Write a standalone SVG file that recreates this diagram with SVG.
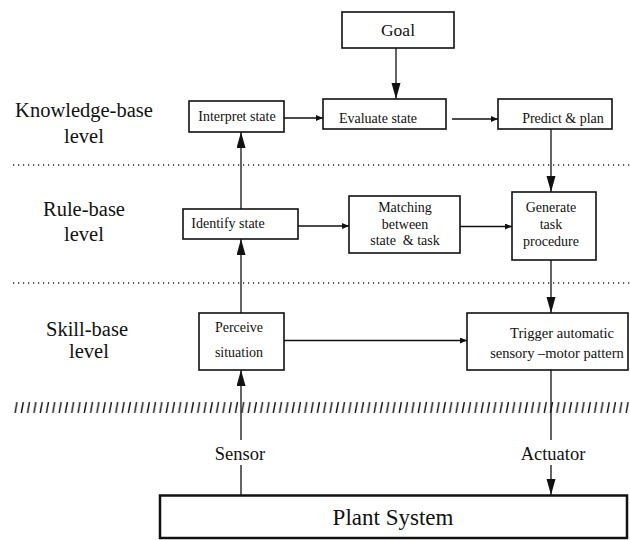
<svg xmlns="http://www.w3.org/2000/svg" width="630" height="540" viewBox="0 0 630 540" font-family="'Liberation Serif', 'Times New Roman', Times, serif">
<style>
text{font-family:'Liberation Serif','Times New Roman',Times,serif;fill:#111;text-anchor:middle}
.box{fill:#fff;stroke:#111;stroke-width:1.6}
.lvl{font-size:20.5px}
.t{font-size:14px}
.ln{stroke:#111;stroke-width:1.3;fill:none}
.dot{stroke:#222;stroke-width:1.3;stroke-dasharray:1.2 3.8;fill:none}
</style>
<defs>
<marker id="big" markerUnits="userSpaceOnUse" markerWidth="16" markerHeight="10" refX="16" refY="4.5" orient="auto">
<path d="M0,0 L16,4.5 L0,9 z" fill="#111"/>
</marker>
<marker id="sm" markerUnits="userSpaceOnUse" markerWidth="8" markerHeight="7" refX="7" refY="3" orient="auto">
<path d="M0,0 L7,3 L0,6 z" fill="#111"/>
</marker>
<pattern id="hatch" patternUnits="userSpaceOnUse" x="13" y="402" width="6.3" height="11">
<line x1="4" y1="0" x2="2" y2="11" stroke="#111" stroke-width="1.4"/>
</pattern>
</defs>

<g id="levels">
<text class="lvl" x="84" y="117">Knowledge-base</text>
<text class="lvl" x="84" y="143">level</text>
<text class="lvl" x="84" y="216">Rule-base</text>
<text class="lvl" x="84" y="241">level</text>
<text class="lvl" x="87" y="336">Skill-base</text>
<text class="lvl" x="89" y="358">level</text>
</g>

<g id="separators">
<line class="dot" x1="13" y1="165" x2="630" y2="165"/>
<line class="dot" x1="13" y1="283" x2="630" y2="283"/>
<rect x="13" y="402" width="617" height="11" fill="url(#hatch)"/>
</g>

<g id="connectors">
<line class="ln" x1="396" y1="48" x2="396" y2="99" marker-end="url(#big)"/>
<line class="ln" x1="284" y1="118" x2="323" y2="118" marker-end="url(#sm)"/>
<line class="ln" x1="452" y1="119" x2="498" y2="119" marker-end="url(#sm)"/>
<line class="ln" x1="241" y1="209" x2="241" y2="132" marker-end="url(#big)"/>
<line class="ln" x1="551" y1="129" x2="551" y2="192" marker-end="url(#big)"/>
<line class="ln" x1="298" y1="226" x2="349" y2="226" marker-end="url(#sm)"/>
<line class="ln" x1="460" y1="226.5" x2="512" y2="226.5" marker-end="url(#sm)"/>
<line class="ln" x1="241" y1="313" x2="241" y2="239" marker-end="url(#big)"/>
<line class="ln" x1="551" y1="260" x2="551" y2="313" marker-end="url(#big)"/>
<line class="ln" x1="284" y1="340.5" x2="467" y2="340.5" marker-end="url(#sm)"/>
<line class="ln" x1="241" y1="495" x2="241" y2="465"/>
<line class="ln" x1="241" y1="440" x2="241" y2="370" marker-end="url(#big)"/>
<line class="ln" x1="551" y1="370" x2="551" y2="440"/>
<line class="ln" x1="551" y1="465" x2="551" y2="495" marker-end="url(#big)"/>
<text x="240" y="460" style="font-size:18.5px">Sensor</text>
<text x="553" y="460" style="font-size:18.5px">Actuator</text>
</g>

<g id="goal">
<rect class="box" x="342" y="12" width="112" height="36"/>
<text x="398" y="36" style="font-size:17.5px">Goal</text>
</g>
<g id="interpret">
<rect class="box" x="189" y="101" width="95" height="31"/>
<text class="t" x="237" y="121">Interpret state</text>
</g>
<g id="evaluate">
<rect class="box" x="323" y="99" width="123" height="30"/>
<text class="t" x="378" y="123">Evaluate state</text>
</g>
<g id="predict">
<rect class="box" x="498" y="99" width="114" height="30"/>
<text class="t" x="563" y="123">Predict &amp; plan</text>
</g>
<g id="identify">
<rect class="box" x="183" y="209" width="115" height="30"/>
<text class="t" x="228" y="228">Identify state</text>
</g>
<g id="matching">
<rect class="box" x="349" y="196" width="111" height="57"/>
<text class="t" x="405" y="212">Matching</text>
<text class="t" x="405" y="229">between</text>
<text class="t" x="405" y="245" xml:space="preserve">state  &amp; task</text>
</g>
<g id="generate">
<rect class="box" x="512" y="192" width="84" height="68"/>
<text class="t" x="551" y="212">Generate</text>
<text class="t" x="551" y="229">task</text>
<text class="t" x="551" y="246">procedure</text>
</g>
<g id="perceive">
<rect class="box" x="199" y="313" width="85" height="57"/>
<text class="t" x="239" y="332">Perceive</text>
<text class="t" x="239" y="357">situation</text>
</g>
<g id="trigger">
<rect class="box" x="467" y="313" width="161" height="57"/>
<text x="562" y="338" style="font-size:14.5px">Trigger automatic</text>
<text x="557" y="358" style="font-size:14.5px">sensory –motor pattern</text>
</g>
<g id="plant">
<rect x="160" y="495.5" width="467" height="42.5" fill="#fff" stroke="#111" stroke-width="2.5"/>
<text x="393" y="525" style="font-size:23px">Plant System</text>
</g>
</svg>
